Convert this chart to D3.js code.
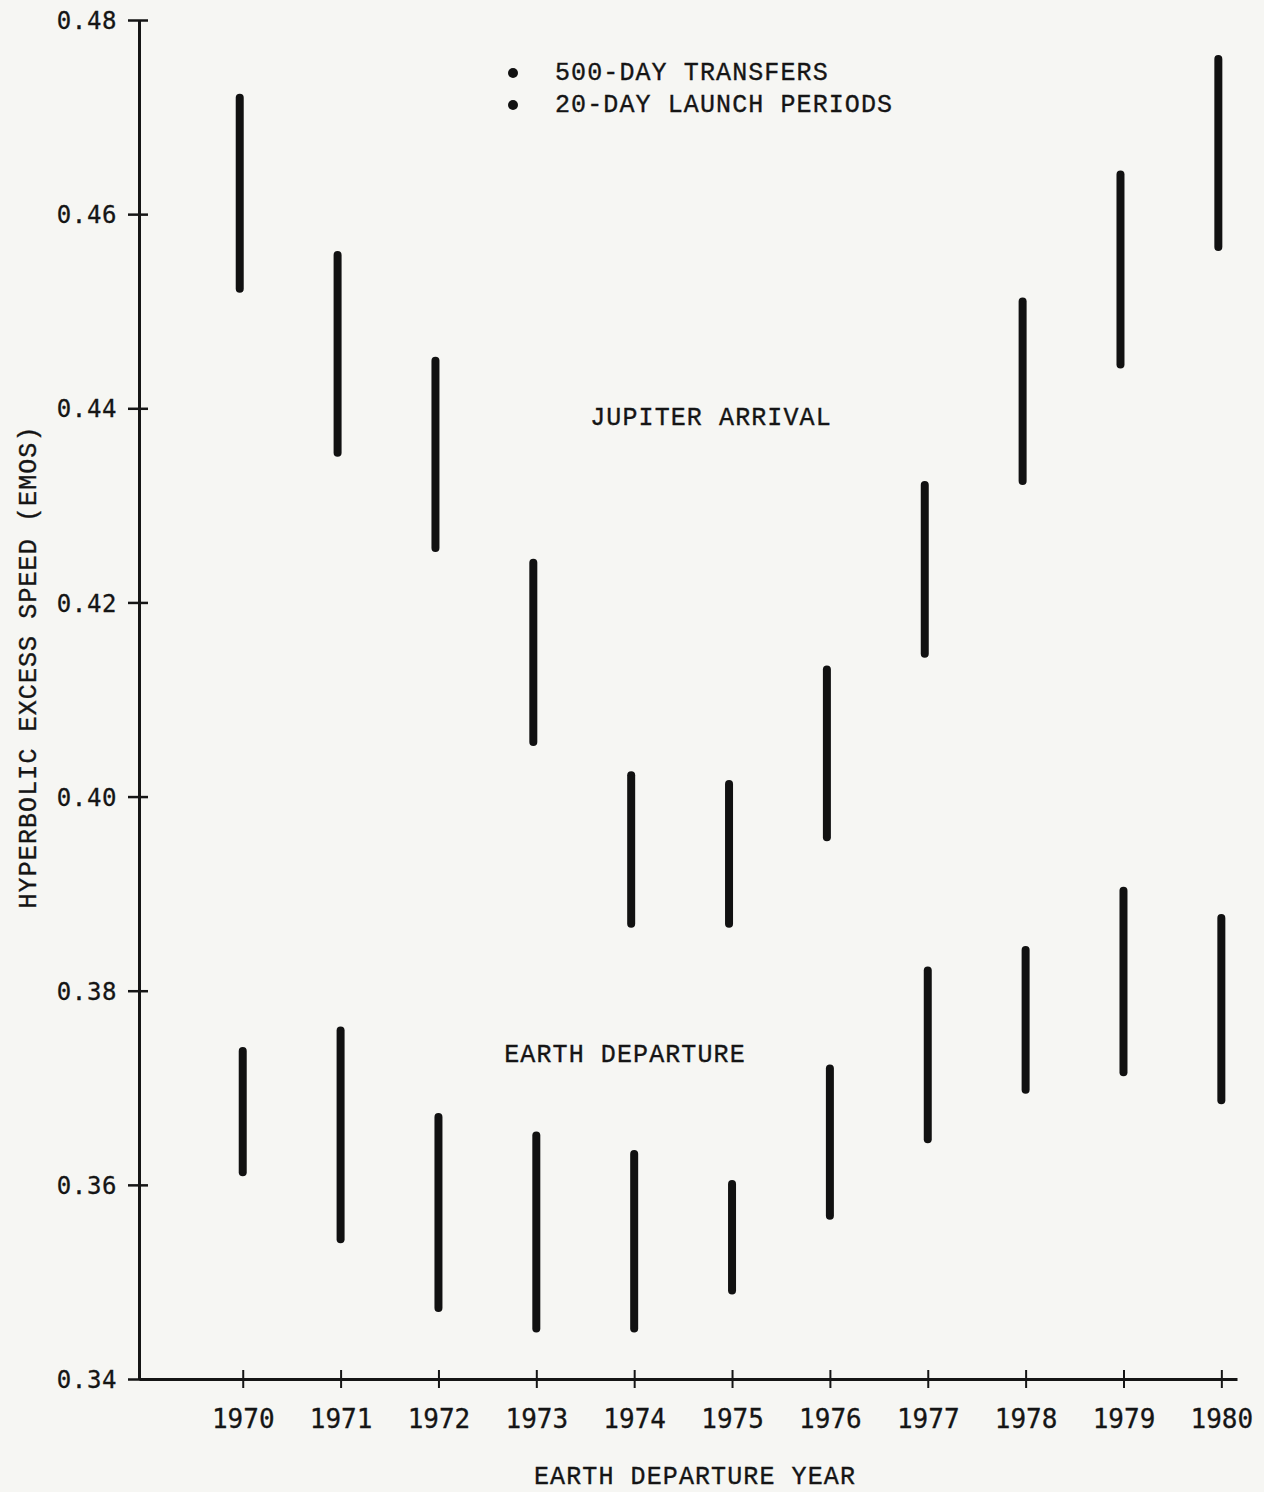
<!DOCTYPE html>
<html>
<head>
<meta charset="utf-8">
<script src="https://cdn.jsdelivr.net/npm/d3@7"></script>
<style>
  body { margin: 0; background: #f6f6f3; }
  svg { display: block; }
  .tw { font-family: "Liberation Mono", "DejaVu Sans Mono", monospace; fill: #151515; stroke: #151515; stroke-width: 0.35px; }
  .num { font-family: "DejaVu Sans Mono", monospace; fill: #151515; stroke: #151515; stroke-width: 0.3px; }
</style>
</head>
<body>
<div class="B"></div>
<script>
// data
var years = [1970, 1971, 1972, 1973, 1974, 1975, 1976, 1977, 1978, 1979, 1980];
var jupiterHigh = [0.4723, 0.4561, 0.4452, 0.4244, 0.4025, 0.4016, 0.4134, 0.4324, 0.4513, 0.4644, 0.4763];
var jupiterLow  = [0.4520, 0.4351, 0.4253, 0.4053, 0.3866, 0.3866, 0.3955, 0.4144, 0.4322, 0.4442, 0.4563];
var earthHigh = [0.3741, 0.3762, 0.3673, 0.3654, 0.3635, 0.3604, 0.3723, 0.3824, 0.3845, 0.3906, 0.3878];
var earthLow  = [0.3610, 0.3541, 0.3470, 0.3449, 0.3449, 0.3488, 0.3565, 0.3644, 0.3695, 0.3713, 0.3684];
var yTicks = [0.34, 0.36, 0.38, 0.40, 0.42, 0.44, 0.46, 0.48];
var legendLines = ['500-DAY TRANSFERS', '20-DAY LAUNCH PERIODS'];

var width = 1264, height = 1492;

var svg = d3.select('.B').append('svg')
    .attr('width', width)
    .attr('height', height);

var x = d3.scaleLinear().domain([1968.94, 1980.16]).range([139, 1237]);
var y = d3.scaleLinear().domain([0.34, 0.48]).range([1379, 20]);

// y axis
var yAxis = svg.append('g')
    .attr('transform', 'translate(' + x.range()[0] + ',0)')
    .call(d3.axisLeft(y).tickValues(yTicks).tickFormat(d3.format('.2f')).tickSizeOuter(0));
yAxis.select('.domain').attr('stroke', '#151515').attr('stroke-width', 3);
yAxis.selectAll('.tick line').attr('x1', -11).attr('x2', 9).attr('stroke', '#151515').attr('stroke-width', 2.5);
yAxis.selectAll('.tick text')
    .attr('class', 'num')
    .attr('x', -22)
    .attr('dy', '0.36em')
    .style('font-size', '24px')
    .style('letter-spacing', '0.6px')
    .attr('fill', null);

// x axis
var xAxis = svg.append('g')
    .attr('transform', 'translate(0,' + y.range()[0] + ')')
    .call(d3.axisBottom(x).tickValues(years).tickFormat(d3.format('d')).tickSizeOuter(0));
xAxis.select('.domain').attr('stroke', '#151515').attr('stroke-width', 3);
xAxis.selectAll('.tick line').attr('y1', -9).attr('y2', 9).attr('stroke', '#151515').attr('stroke-width', 2);
xAxis.selectAll('.tick text')
    .attr('class', 'num')
    .attr('y', 49)
    .attr('dy', 0)
    .style('font-size', '26px')
    .attr('fill', null);

// jupiter arrival bars
svg.append('g').selectAll('.jup')
    .data(years)
    .enter()
    .append('line')
    .attr('class', 'jup')
    .attr('x1', function (d) { return x(d) - 3 })
    .attr('x2', function (d) { return x(d) - 3 })
    .attr('y1', function (d, i) { return y(jupiterHigh[i]) + 3 })
    .attr('y2', function (d, i) { return y(jupiterLow[i]) - 3 })
    .attr('stroke', '#111')
    .attr('stroke-width', 8)
    .attr('stroke-linecap', 'round');

// earth departure bars
svg.append('g').selectAll('.earth')
    .data(years)
    .enter()
    .append('line')
    .attr('class', 'earth')
    .attr('x1', function (d) { return x(d) })
    .attr('x2', function (d) { return x(d) })
    .attr('y1', function (d, i) { return y(earthHigh[i]) + 3 })
    .attr('y2', function (d, i) { return y(earthLow[i]) - 3 })
    .attr('stroke', '#111')
    .attr('stroke-width', 8)
    .attr('stroke-linecap', 'round');

// legend
var legend = svg.append('g');
legend.selectAll('circle')
    .data(legendLines)
    .enter()
    .append('circle')
    .attr('cx', 513)
    .attr('cy', function (d, i) { return 73 + i * 32 })
    .attr('r', 5)
    .attr('fill', '#111');
legend.selectAll('text')
    .data(legendLines)
    .enter()
    .append('text')
    .attr('class', 'tw')
    .attr('x', 555)
    .attr('y', function (d, i) { return 80 + i * 32 })
    .style('font-size', '25px')
    .style('letter-spacing', '1.1px')
    .text(function (d) { return d });

// labels
svg.append('text').attr('class', 'tw')
    .attr('x', 711).attr('y', 425)
    .attr('text-anchor', 'middle')
    .style('font-size', '25px').style('letter-spacing', '1.1px')
    .text('JUPITER ARRIVAL');

svg.append('text').attr('class', 'tw')
    .attr('x', 625).attr('y', 1062)
    .attr('text-anchor', 'middle')
    .style('font-size', '25px').style('letter-spacing', '1.1px')
    .text('EARTH DEPARTURE');

svg.append('text').attr('class', 'tw')
    .attr('x', 695).attr('y', 1484)
    .attr('text-anchor', 'middle')
    .style('font-size', '25px').style('letter-spacing', '1.1px')
    .text('EARTH DEPARTURE YEAR');

svg.append('text').attr('class', 'tw')
    .attr('transform', 'translate(36,667) rotate(-90)')
    .attr('text-anchor', 'middle')
    .style('font-size', '25px').style('letter-spacing', '1.1px')
    .text('HYPERBOLIC EXCESS SPEED (EMOS)');
</script>
</body>
</html>
